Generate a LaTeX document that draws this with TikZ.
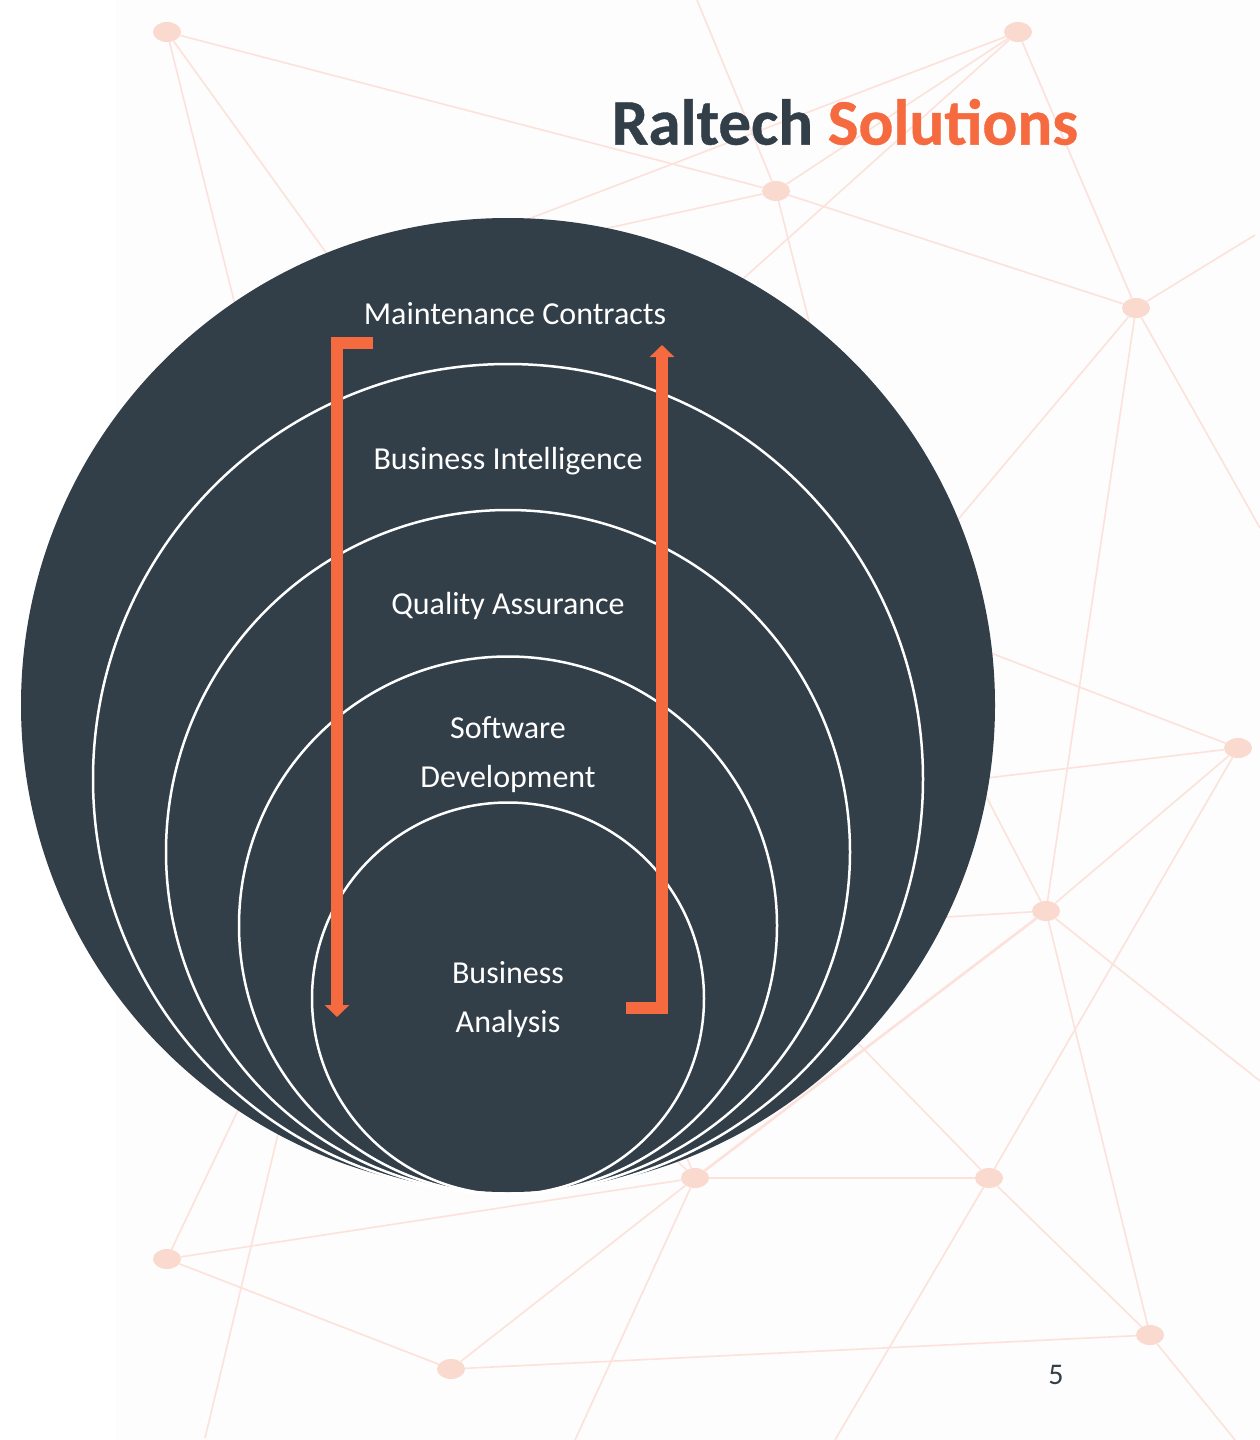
\documentclass[tikz,border=0pt]{standalone}
\usepackage{fontspec}
\setmainfont{Carlito}
\newfontfamily\brandfont{Carlito}[BoldFeatures={FakeBold=0.6}]
\usetikzlibrary{arrows.meta,shapes.geometric}
\definecolor{slatedark}{HTML}{323E48}
\definecolor{flameorange}{HTML}{F56B3F}
\definecolor{meshpink}{HTML}{FADACF}
\definecolor{meshline}{HTML}{FCE2DA}
\definecolor{pagetint}{HTML}{FDFDFD}
\tikzset{
    meshnode/.style = {
        ellipse,
        fill=meshpink,
        inner sep=0pt,
        minimum width=28pt,
        minimum height=20pt
    },
    meshedge/.style = {
        draw=meshline,
        line width=1.6pt
    },
    discnode/.style = {
        circle,
        fill=slatedark,
        inner sep=0pt,
        outer sep=0pt
    },
    ringnode/.style = {
        circle,
        draw=white,
        line width=2.5pt,
        inner sep=0pt,
        outer sep=0pt
    },
    layernode/.style = {
        align=center,
        text=white,
        inner sep=0pt,
        font=\fontsize{32}{49}\selectfont
    },
    flowarrow/.style = {
        draw=flameorange,
        line width=12pt,
        miter limit=10,
        -{Triangle[width=24pt,length=12pt]}
    }
}
\begin{document}
\begin{tikzpicture}[x=1pt,y=-1pt]
    \useasboundingbox (0,0) rectangle (1260,1440);
    \fill [pagetint] (116,0) rectangle (1260,1440);

    \node [meshnode] (mesha) at (167,32) {};
    \node [meshnode] (meshb) at (1018,32) {};
    \node [meshnode] (meshc) at (776,191) {};
    \node [meshnode] (meshd) at (1136,308) {};
    \node [meshnode] (meshe) at (1238,748) {};
    \node [meshnode] (meshf) at (1046,911) {};
    \node [meshnode] (meshg) at (989,1178) {};
    \node [meshnode] (meshh) at (1150,1335) {};
    \node [meshnode] (meshi) at (695,1178) {};
    \node [meshnode] (meshj) at (167,1259) {};
    \node [meshnode] (meshk) at (451,1369) {};

    \coordinate (enda) at (240,325);
    \coordinate (endb) at (340,272);
    \coordinate (endc) at (697,0);
    \coordinate (endd) at (815,345);
    \coordinate (ende) at (510,226);
    \coordinate (endf) at (725,295);
    \coordinate (endg) at (590,232);
    \coordinate (endh) at (1255,235);
    \coordinate (endi) at (945,535);
    \coordinate (endj) at (1260,528);
    \coordinate (endk) at (970,645);
    \coordinate (endl) at (970,780);
    \coordinate (endn) at (975,775);
    \coordinate (endo) at (930,918);
    \coordinate (endp) at (1260,1081);
    \coordinate (endq) at (850,1035);
    \coordinate (endr) at (835,1440);
    \coordinate (ends) at (1235,1440);
    \coordinate (endt) at (575,1440);
    \coordinate (endu) at (250,1085);
    \coordinate (endv) at (285,1105);
    \coordinate (endw) at (205,1438);
    \coordinate (endx) at (655,1140);
    \coordinate (endy) at (680,1140);

    \draw [meshedge] (mesha) -- (meshc);
    \draw [meshedge] (mesha) -- (enda);
    \draw [meshedge] (mesha) -- (endb);
    \draw [meshedge] (endc) -- (meshc);
    \draw [meshedge] (meshc) -- (endd);
    \draw [meshedge] (meshb) -- (ende);
    \draw [meshedge] (meshb) -- (meshc);
    \draw [meshedge] (meshb) -- (endf);
    \draw [meshedge] (meshc) -- (endg);
    \draw [meshedge] (meshc) -- (meshd);
    \draw [meshedge] (meshb) -- (meshd);
    \draw [meshedge] (meshd) -- (endh);
    \draw [meshedge] (meshd) -- (endi);
    \draw [meshedge] (meshd) -- (meshf);
    \draw [meshedge] (meshd) -- (endj);
    \draw [meshedge] (meshe) -- (endk);
    \draw [meshedge] (meshe) -- (endl);
    \draw [meshedge] (meshe) -- (meshf);
    \draw [meshedge] (meshe) -- (meshg);
    \draw [meshedge] (meshf) -- (endn);
    \draw [meshedge] (meshf) -- (endo);
    \draw [meshedge, line width=2.6pt] (meshf) -- (meshi);
    \draw [meshedge] (meshf) -- (meshh);
    \draw [meshedge] (meshf) -- (endp);
    \draw [meshedge, line width=1.2pt] (meshg) -- (meshi);
    \draw [meshedge] (meshg) -- (endq);
    \draw [meshedge] (meshg) -- (meshh);
    \draw [meshedge] (meshg) -- (endr);
    \draw [meshedge] (meshh) -- (meshk);
    \draw [meshedge] (meshh) -- (ends);
    \draw [meshedge] (meshi) -- (meshj);
    \draw [meshedge] (meshi) -- (meshk);
    \draw [meshedge] (meshi) -- (endt);
    \draw [meshedge] (meshi) -- (endx);
    \draw [meshedge] (meshi) -- (endy);
    \draw [meshedge] (meshj) -- (endu);
    \draw [meshedge] (meshj) -- (meshk);
    \draw [meshedge] (endv) -- (endw);

    \node [discnode, minimum size=974pt] (discmain) at (508,705) {};
    \node [ringnode, minimum size=830pt] (ringa) at (508,779) {};
    \node [ringnode, minimum size=684pt] (ringb) at (508,852) {};
    \node [ringnode, minimum size=538pt] (ringc) at (508,925.5) {};
    \node [ringnode, minimum size=392pt] (ringd) at (508,998.5) {};

    \node [layernode] (maintain) at (515,314) {Maintenance Contracts};
    \node [layernode] (intel) at (508,461) {Business Intelligence};
    \node [layernode] (quality) at (508,606) {Quality Assurance};
    \node [layernode] (software) at (508,755) {Software\\Development};
    \node [layernode] (analysis) at (508,1000) {Business\\Analysis};

    \coordinate (downstart) at (373,343);
    \coordinate (downturn) at (337,343);
    \coordinate (downtip) at (337,1017);
    \coordinate (upstart) at (626,1008);
    \coordinate (upturn) at (662,1008);
    \coordinate (uptip) at (662,345);
    \draw [flowarrow] (downstart) -- (downturn) -- (downtip);
    \draw [flowarrow] (upstart) -- (upturn) -- (uptip);

    \node [inner sep=0pt, font=\fontsize{65}{65}\selectfont\brandfont\bfseries, text=slatedark] (brand) at (845,122) {Raltech \textcolor{flameorange}{Solutions}};
    \node [inner sep=0pt, font=\fontsize{30}{30}\selectfont, text=slatedark] (pagenum) at (1056,1375) {5};
\end{tikzpicture}
\end{document}
